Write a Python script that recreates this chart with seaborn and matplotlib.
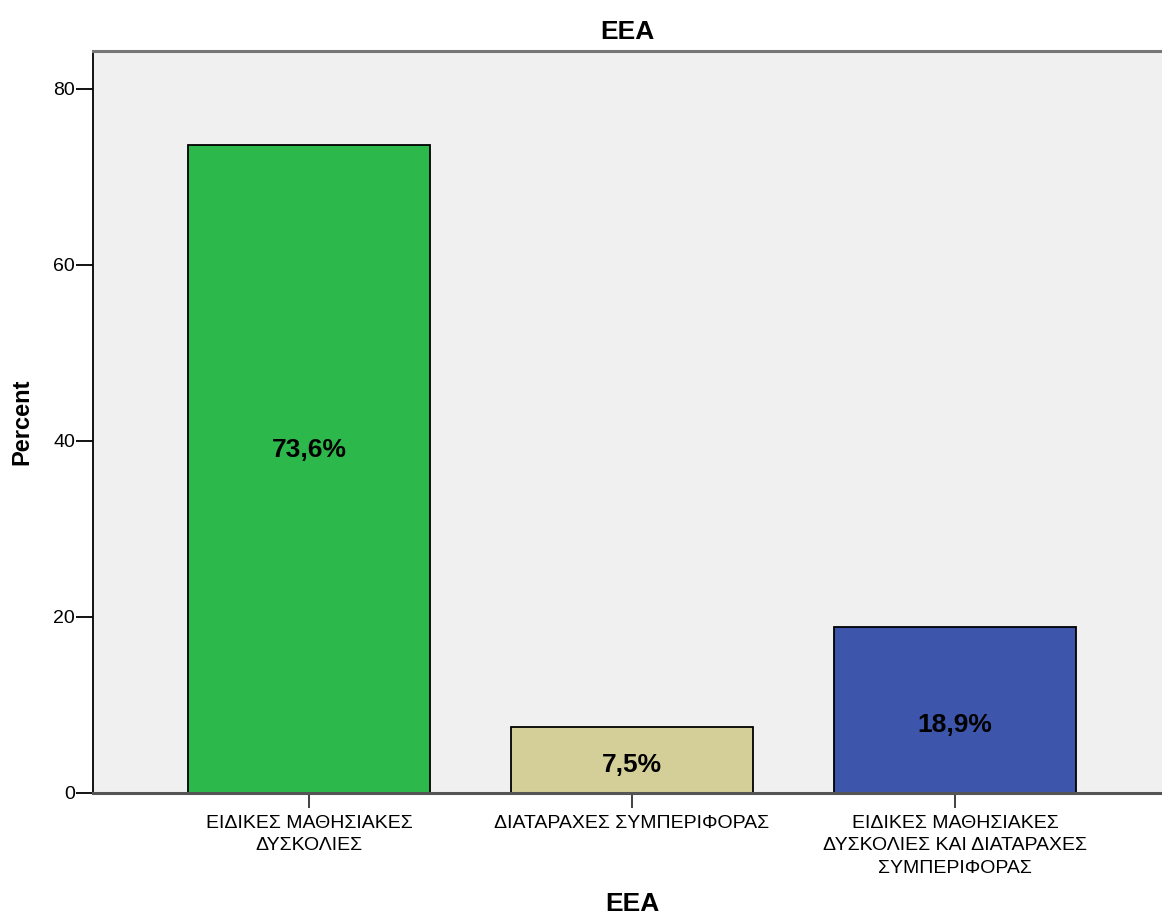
import matplotlib
matplotlib.use("Agg")
import matplotlib.pyplot as plt
import seaborn as sns
import pandas as pd

categories = ["ΕΙΔΙΚΕΣ ΜΑΘΗΣΙΑΚΕΣ\nΔΥΣΚΟΛΙΕΣ",
              "ΔΙΑΤΑΡΑΧΕΣ ΣΥΜΠΕΡΙΦΟΡΑΣ",
              "ΕΙΔΙΚΕΣ ΜΑΘΗΣΙΑΚΕΣ\nΔΥΣΚΟΛΙΕΣ ΚΑΙ ΔΙΑΤΑΡΑΧΕΣ\nΣΥΜΠΕΡΙΦΟΡΑΣ"]
percents = [73.6, 7.5, 18.9]
value_labels = ["73,6%", "7,5%", "18,9%"]
colors = ["#2DB84B", "#D4CF98", "#3D55AA"]
y_ticks = [0, 20, 40, 60, 80]

sns.set_theme(style="white")
plt.rcParams['font.family'] = ['Liberation Sans', 'DejaVu Sans']
plt.rcParams['text.color'] = 'black'
plt.rcParams['axes.labelcolor'] = 'black'
plt.rcParams['xtick.color'] = 'black'
plt.rcParams['ytick.color'] = 'black'

df = pd.DataFrame({"cat": categories, "pct": percents})

fig = plt.figure(figsize=(11.62, 9.18), dpi=100)
ax = fig.add_axes([0.080, 0.1362, 0.92, 0.8082])
ax.set_facecolor("#F0F0F0")

sns.barplot(data=df, x="cat", y="pct", hue="cat", palette=colors, legend=False,
            width=0.75, edgecolor="black", linewidth=1.3, saturation=1, ax=ax)

label_frac = [0.53, 0.43, 0.41]
for i, (v, lab) in enumerate(zip(percents, value_labels)):
    ax.text(i, v * label_frac[i], lab, ha="center", va="center",
            fontsize=19, fontweight="bold", color="black")

ax.set_ylim(0, 84.3)
ax.set_xlim(-0.669, 2.641)
ax.set_yticks(y_ticks)
ax.set_yticklabels([str(t) for t in y_ticks], fontsize=14)
ax.set_xticks(range(len(categories)))
ax.set_xticklabels(categories, fontsize=14, linespacing=1.4)
ax.tick_params(axis="y", direction="out", length=12, width=1.3, color="black", left=True, pad=1)
ax.tick_params(axis="x", direction="out", length=11, width=1.3, color="#333333", bottom=True, pad=5)

ax.spines["right"].set_visible(False)
ax.spines["left"].set_color("black")
ax.spines["left"].set_linewidth(1.3)
ax.spines["bottom"].set_color("#555555")
ax.spines["bottom"].set_linewidth(2.2)
ax.spines["top"].set_color("#777777")
ax.spines["top"].set_linewidth(2.2)

ax.set_xlabel("EEA", fontsize=19, fontweight="bold")
ax.xaxis.set_label_coords(0.505, -0.133)
ax.set_ylabel("Percent", fontsize=17, fontweight="bold", labelpad=14)
ax.set_title("EEA", fontsize=19, fontweight="bold", pad=9)

fig.savefig("out.png", dpi=100)
